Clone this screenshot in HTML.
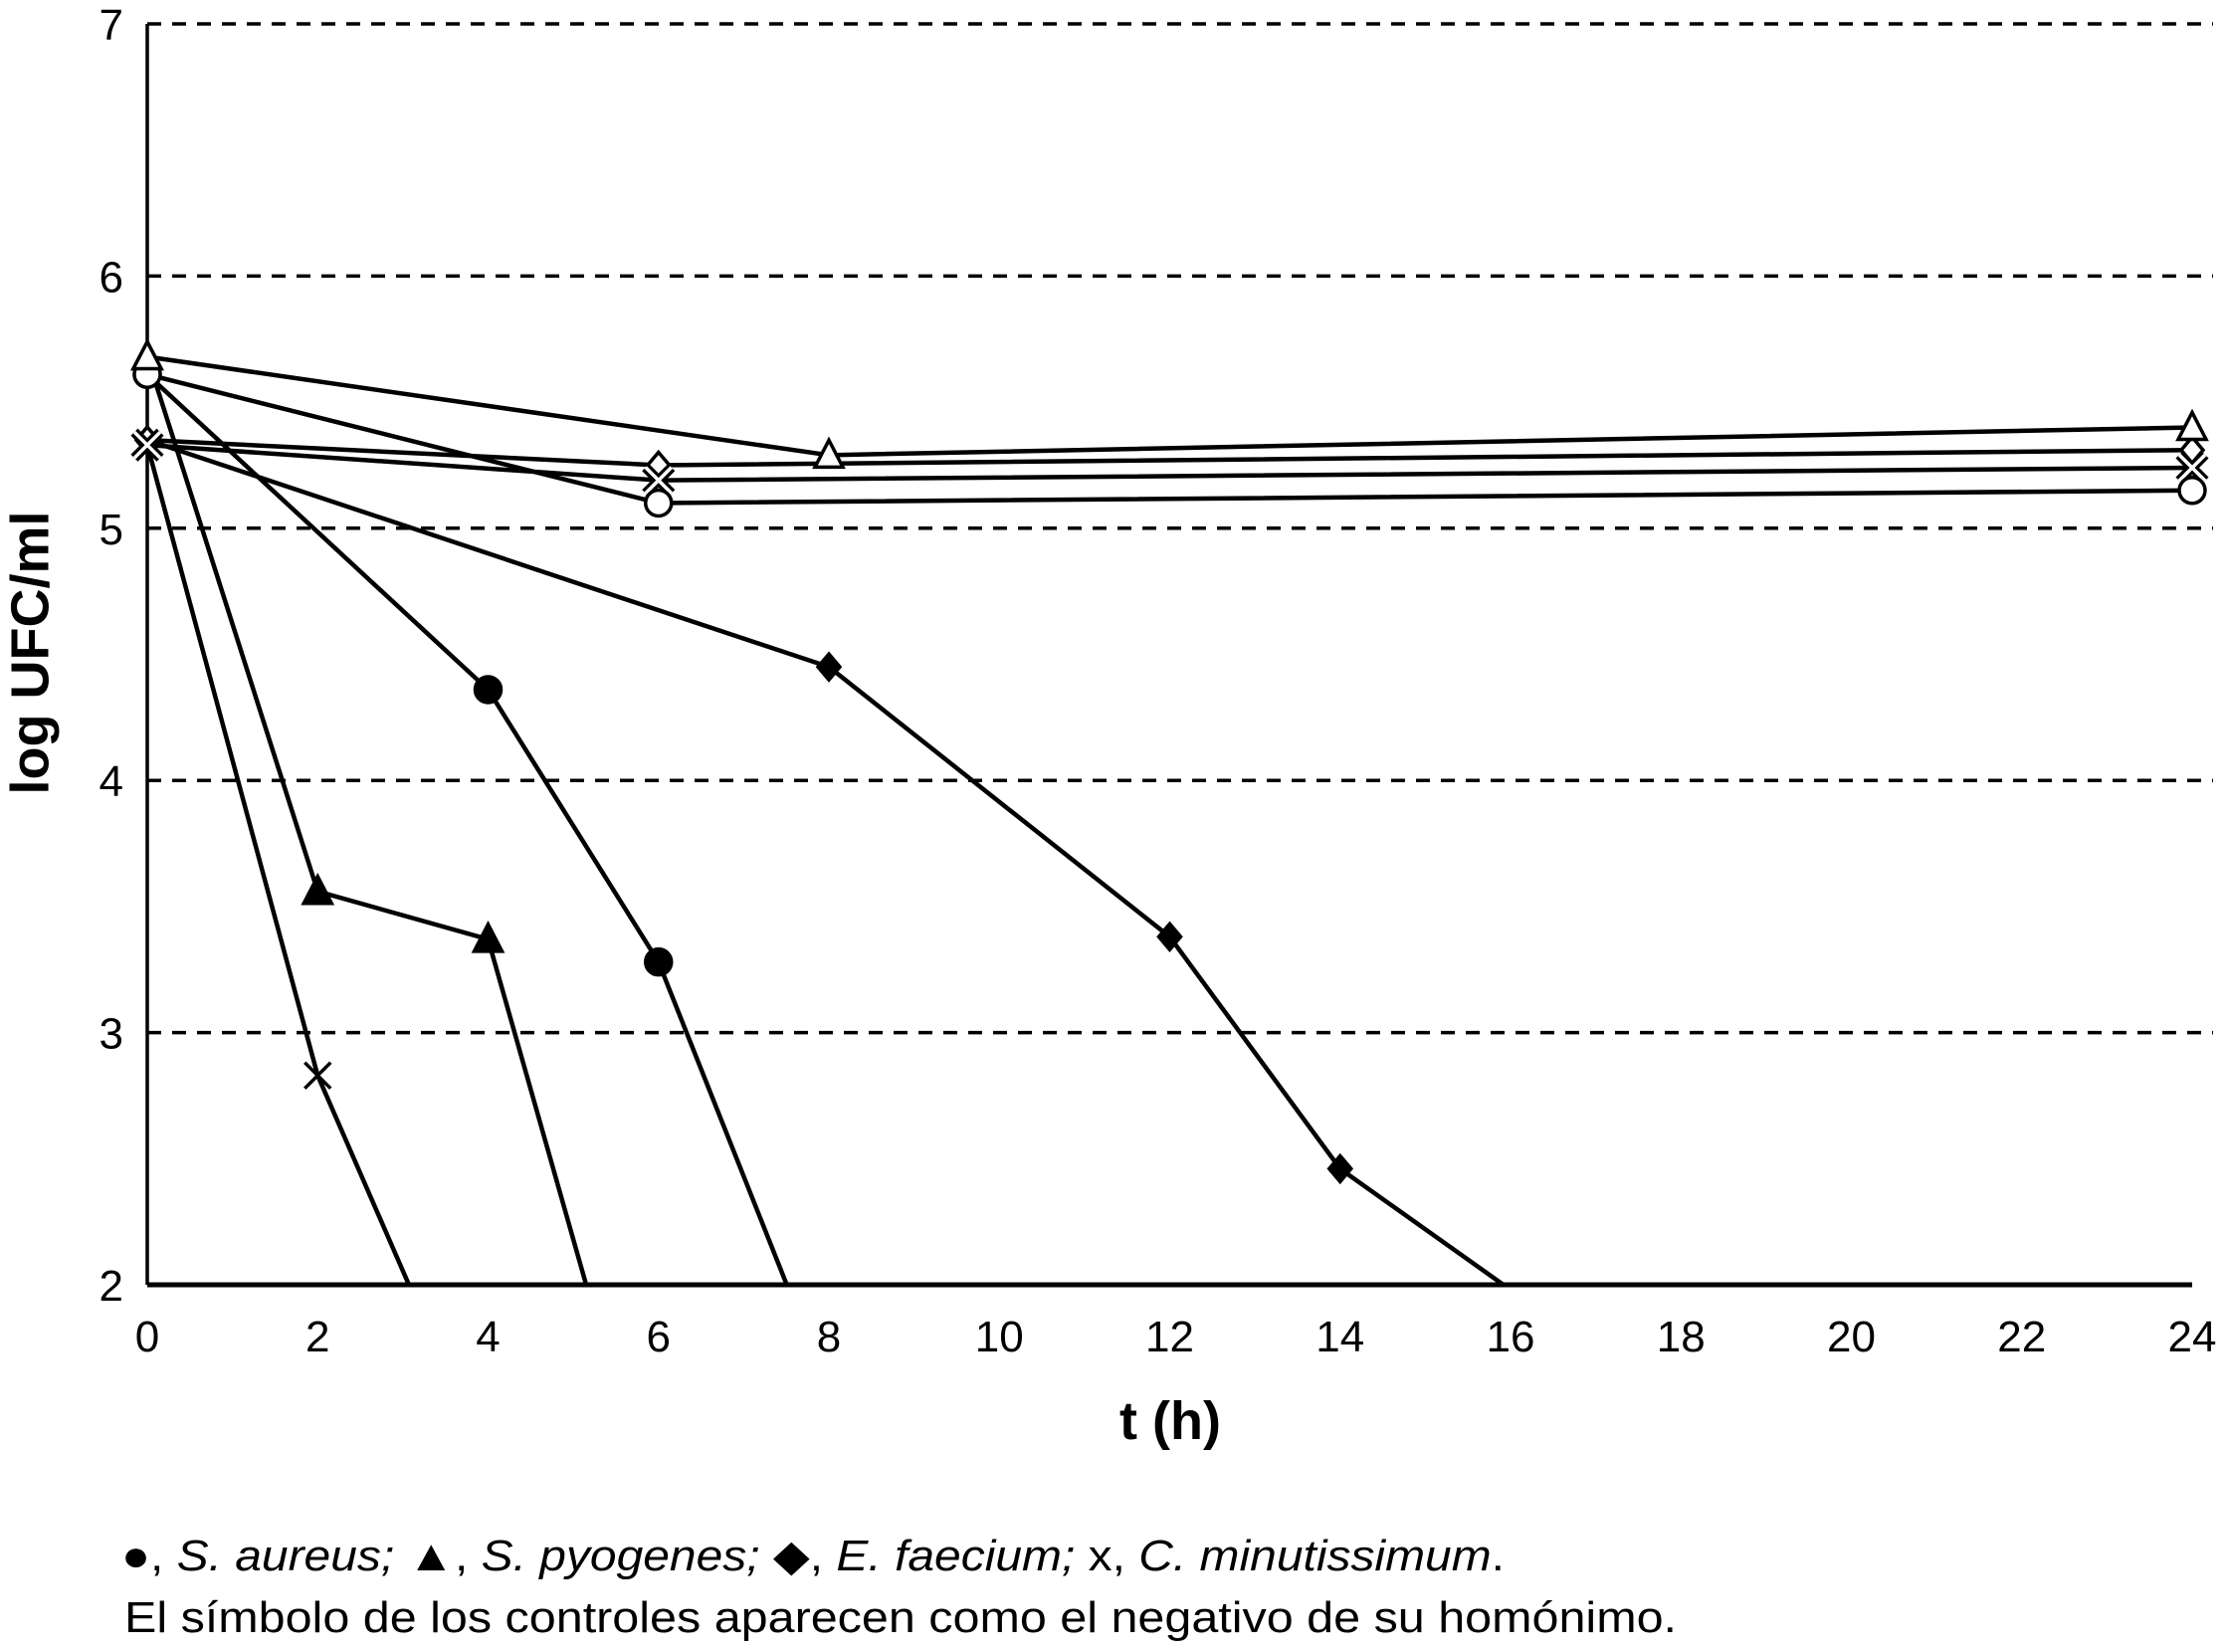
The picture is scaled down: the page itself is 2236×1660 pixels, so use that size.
<!DOCTYPE html>
<html><head><meta charset="utf-8"><style>
html,body{margin:0;padding:0;background:#fff;}
svg{display:block;font-family:"Liberation Sans",Arial,sans-serif;}
</style></head><body>
<svg id="chart" width="2236" height="1660" viewBox="0 0 2236 1660" xmlns="http://www.w3.org/2000/svg">
<defs><clipPath id="plotclip"><rect x="140" y="0" width="2096" height="1291"/></clipPath></defs>
<g id="grid"></g>
<g id="axes"></g>
<g id="series" clip-path="url(#plotclip)"></g>
<g id="markers"></g>
<text x="34" y="656" transform="rotate(-90 34 656)" text-anchor="middle" dominant-baseline="middle" font-size="54" font-weight="bold">log UFC/ml</text>
<text x="1176" y="1446" text-anchor="middle" font-size="54" font-weight="bold">t (h)</text>
<text x="122" y="1578" font-size="44" textLength="1390" lengthAdjust="spacingAndGlyphs">●, <tspan font-style="italic">S. aureus;</tspan>  ▲, <tspan font-style="italic">S. pyogenes;</tspan> ◆, <tspan font-style="italic">E. faecium;</tspan> x, <tspan font-style="italic">C. minutissimum</tspan>.</text>
<text x="125" y="1640" font-size="44" textLength="1560" lengthAdjust="spacingAndGlyphs">El símbolo de los controles aparecen como el negativo de su homónimo.</text>
</svg>
<script>
const xTicks = [0,2,4,6,8,10,12,14,16,18,20,22,24];
const yTicks = [2,3,4,5,6,7];
const ctrlTriT = [0,8,24];   const ctrlTriV = [5.68,5.29,5.40];
const ctrlCirT = [0,6,24];   const ctrlCirV = [5.61,5.10,5.15];
const ctrlDiaT = [0,6,24];   const ctrlDiaV = [5.35,5.25,5.31];
const ctrlXT = [0,6,24];     const ctrlXV = [5.33,5.19,5.24];
const aureusT = [0,4,6,8];   const aureusV = [5.61,4.36,3.28,1.58];
const pyogT = [0,2,4,6];     const pyogV = [5.68,3.56,3.37,0.99];
const faecT = [0,8,12,14,16]; const faecV = [5.35,4.45,3.38,2.46,1.98];
const minuT = [0,2,4];       const minuV = [5.33,2.83,1.28];

const X0=148, X1=2203, Y2=1291, Y7=24;
const xs = t => X0 + (X1-X0)*t/24;
const ys = v => Y2 - (Y2-Y7)*(v-2)/5;
const NS="http://www.w3.org/2000/svg";
function mk(tag, attrs, parent){const e=document.createElementNS(NS,tag);for(const k in attrs)e.setAttribute(k,attrs[k]);parent.appendChild(e);return e;}
const grid=document.getElementById('grid'), axes=document.getElementById('axes'), ser=document.getElementById('series'), mks=document.getElementById('markers');

yTicks.forEach(v=>{
  if(v>2){const l=mk('line',{x1:X0,x2:2224,y1:ys(v),y2:ys(v),stroke:'#000','stroke-width':3.5,'stroke-dasharray':'14 11'},grid);
  
  }
  const t=mk('text',{x:124,y:ys(v)+16,'text-anchor':'end','font-size':44},axes);
  t.textContent=v;
  
  
});
xTicks.forEach(v=>{
  const t=mk('text',{x:xs(v),y:1358,'text-anchor':'middle','font-size':44},axes);
  t.textContent=v;
  
  
});
const ya=mk('line',{x1:X0,x2:X0,y1:Y7,y2:Y2,stroke:'#000','stroke-width':3.5},axes);


const xa=mk('line',{x1:X0,x2:X1,y1:Y2,y2:Y2,stroke:'#000','stroke-width':5},axes);



function marker(type,x,y,g){
  const r=13; let e;
  const filled=type.startsWith('f'); const fill=filled?'#000':'#fff';
  const s=type.slice(1);
  if(s==='cir') e=mk('circle',{cx:x,cy:y,r:r,fill:fill,stroke:'#000','stroke-width':3.5},g);
  else if(s==='tri') e=mk('polygon',{points:`${x},${y-r-2} ${x-r-1},${y+r-1} ${x+r+1},${y+r-1}`,fill:fill,stroke:'#000','stroke-width':3.5},g);
  else if(s==='dia') e=mk('polygon',{points:`${x},${y-r} ${x+r-2},${y} ${x},${y+r} ${x-r+2},${y}`,fill:fill,stroke:'#000','stroke-width':3.5},g);
  else {
    e=mk('g',{},g);
    if(!filled){mk('path',{d:`M${x-r} ${y-r}L${x+r} ${y+r}M${x+r} ${y-r}L${x-r} ${y+r}`,stroke:'#000','stroke-width':10},e);
      mk('path',{d:`M${x-r} ${y-r}L${x+r} ${y+r}M${x+r} ${y-r}L${x-r} ${y+r}`,stroke:'#fff','stroke-width':3.5},e);}
    else mk('path',{d:`M${x-r} ${y-r}L${x+r} ${y+r}M${x+r} ${y-r}L${x-r} ${y+r}`,stroke:'#000','stroke-width':3.5},e);
  }
  return e;
}
function series(name,T,V,type){
  const p=mk('polyline',{points:T.map((t,i)=>xs(t)+','+ys(V[i])).join(' '),fill:'none',stroke:'#000','stroke-width':4.5,'stroke-linejoin':'round'},ser);
  
  
  T.forEach((t,i)=>{ if(V[i]<2) return;
    const m=marker(type,xs(t),ys(V[i]),mks);
    
    
  });
}
series('s-aureus',aureusT,aureusV,'fcir');
series('s-pyogenes',pyogT,pyogV,'ftri');
series('e-faecium',faecT,faecV,'fdia');
series('c-minutissimum',minuT,minuV,'fx');
series('control-e-faecium',ctrlDiaT,ctrlDiaV,'odia');
series('control-c-minutissimum',ctrlXT,ctrlXV,'ox');
series('control-s-aureus',ctrlCirT,ctrlCirV,'ocir');
series('control-s-pyogenes',ctrlTriT,ctrlTriV,'otri');
</script>
</body></html>
